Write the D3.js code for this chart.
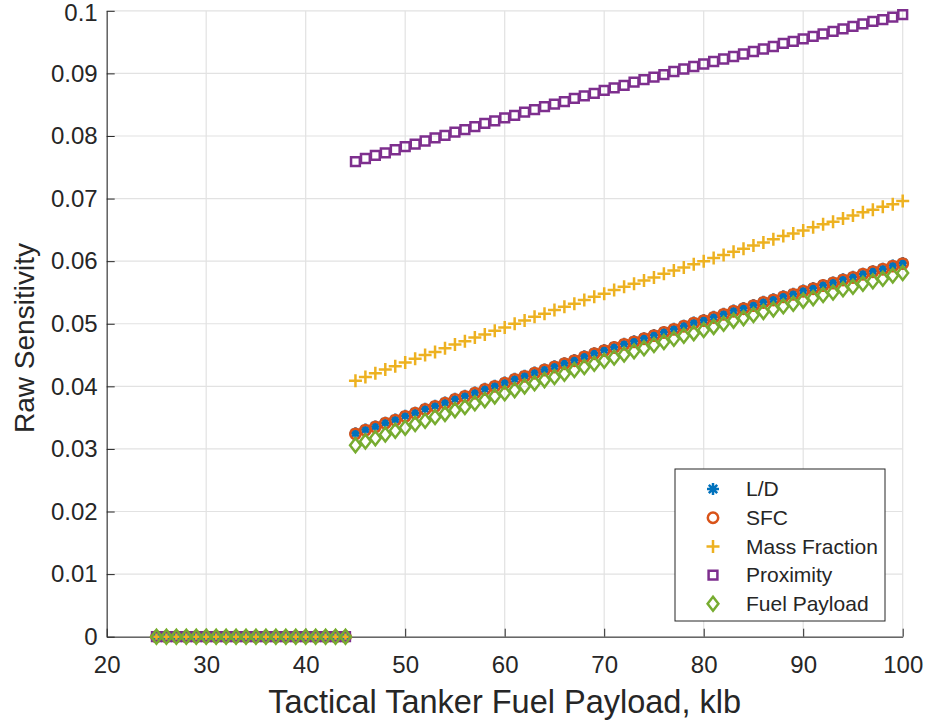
<!DOCTYPE html>
<html>
<head>
<meta charset="utf-8">
<script src="https://cdn.jsdelivr.net/npm/d3@7"></script>
<style>
  body { margin: 0; background: #fff; }
  text { font-family: "Liberation Sans", Arial, Helvetica, sans-serif; fill: #262626; }
</style>
</head>
<body>
<div id="chart"></div>
<script>
// payload (klb) on the x axis, one point per klb
const payload = d3.range(25, 101);

// below 45 klb every sensitivity is zero
const lowZeros = [0, 0, 0, 0, 0, 0, 0, 0, 0, 0, 0, 0, 0, 0, 0, 0, 0, 0, 0, 0];

// 45 .. 100 klb
const ldHigh = [0.0325, 0.0331, 0.0336, 0.0342, 0.0347, 0.0353, 0.0358, 0.0364, 0.0369, 0.0374,
  0.0380, 0.0385, 0.0390, 0.0396, 0.0401, 0.0406, 0.0412, 0.0417, 0.0422, 0.0427,
  0.0432, 0.0437, 0.0442, 0.0448, 0.0453, 0.0458, 0.0463, 0.0468, 0.0472, 0.0477,
  0.0482, 0.0487, 0.0492, 0.0497, 0.0502, 0.0506, 0.0511, 0.0516, 0.0521, 0.0525,
  0.0530, 0.0535, 0.0539, 0.0544, 0.0548, 0.0553, 0.0557, 0.0562, 0.0566, 0.0571,
  0.0575, 0.0580, 0.0584, 0.0588, 0.0593, 0.0597];
const sfcHigh = [0.0324, 0.0330, 0.0335, 0.0341, 0.0346, 0.0352, 0.0357, 0.0363, 0.0368, 0.0373,
  0.0379, 0.0384, 0.0389, 0.0395, 0.0400, 0.0405, 0.0411, 0.0416, 0.0421, 0.0426,
  0.0431, 0.0436, 0.0441, 0.0447, 0.0452, 0.0457, 0.0462, 0.0467, 0.0471, 0.0476,
  0.0481, 0.0486, 0.0491, 0.0496, 0.0501, 0.0505, 0.0510, 0.0515, 0.0520, 0.0524,
  0.0529, 0.0534, 0.0538, 0.0543, 0.0547, 0.0552, 0.0556, 0.0561, 0.0565, 0.0570,
  0.0574, 0.0579, 0.0583, 0.0587, 0.0592, 0.0596];
const massHigh = [0.0409, 0.0415, 0.0421, 0.0427, 0.0432, 0.0438, 0.0444, 0.0450, 0.0455, 0.0461,
  0.0467, 0.0472, 0.0478, 0.0483, 0.0489, 0.0494, 0.0500, 0.0505, 0.0511, 0.0516,
  0.0522, 0.0527, 0.0532, 0.0538, 0.0543, 0.0548, 0.0554, 0.0559, 0.0564, 0.0569,
  0.0574, 0.0580, 0.0585, 0.0590, 0.0595, 0.0600, 0.0605, 0.0610, 0.0615, 0.0620,
  0.0625, 0.0630, 0.0635, 0.0640, 0.0644, 0.0649, 0.0654, 0.0659, 0.0663, 0.0668,
  0.0673, 0.0678, 0.0682, 0.0687, 0.0691, 0.0696];
const proxHigh = [0.0759, 0.0764, 0.0769, 0.0773, 0.0778, 0.0783, 0.0787, 0.0792, 0.0797, 0.0801,
  0.0806, 0.0810, 0.0815, 0.0820, 0.0824, 0.0829, 0.0833, 0.0838, 0.0842, 0.0847,
  0.0851, 0.0855, 0.0860, 0.0864, 0.0868, 0.0873, 0.0877, 0.0881, 0.0886, 0.0890,
  0.0894, 0.0898, 0.0903, 0.0907, 0.0911, 0.0915, 0.0919, 0.0923, 0.0927, 0.0931,
  0.0935, 0.0939, 0.0943, 0.0948, 0.0951, 0.0955, 0.0959, 0.0963, 0.0967, 0.0971,
  0.0975, 0.0979, 0.0983, 0.0986, 0.0990, 0.0994];
const fuelHigh = [0.0306, 0.0312, 0.0317, 0.0323, 0.0329, 0.0334, 0.0340, 0.0345, 0.0351, 0.0356,
  0.0362, 0.0367, 0.0373, 0.0378, 0.0384, 0.0389, 0.0394, 0.0400, 0.0405, 0.0410,
  0.0415, 0.0420, 0.0426, 0.0431, 0.0436, 0.0441, 0.0446, 0.0451, 0.0456, 0.0461,
  0.0466, 0.0471, 0.0476, 0.0481, 0.0485, 0.0490, 0.0495, 0.0500, 0.0505, 0.0509,
  0.0514, 0.0519, 0.0523, 0.0528, 0.0532, 0.0537, 0.0541, 0.0546, 0.0550, 0.0555,
  0.0559, 0.0564, 0.0568, 0.0572, 0.0577, 0.0581];

const seriesNames = ["L/D", "SFC", "Mass Fraction", "Proximity", "Fuel Payload"];
const seriesColors = ["#0072BD", "#D95319", "#EDB120", "#7E2F8E", "#77AC30"];
const seriesMarkers = ["asterisk", "circle", "plus", "square", "diamond"];
const seriesValues = [ldHigh, sfcHigh, massHigh, proxHigh, fuelHigh].map(v => lowZeros.concat(v));

const xTicks = [20, 30, 40, 50, 60, 70, 80, 90, 100];
const yTicks = [0, 0.01, 0.02, 0.03, 0.04, 0.05, 0.06, 0.07, 0.08, 0.09, 0.1];

const width = 927, height = 726;
const margin = {left: 106.7, right: 24.3, top: 10.8, bottom: 89.3};
const innerW = width - margin.left - margin.right;
const innerH = height - margin.top - margin.bottom;

// matlab style marker outlines
function markerPath(type) {
  switch (type) {
    case "asterisk": return "M0,-6V6M-6,0H6M-4.2,-4.2L4.2,4.2M-4.2,4.2L4.2,-4.2";
    case "circle":   return "M5.2,0A5.2,5.2 0 1,1 -5.2,0A5.2,5.2 0 1,1 5.2,0Z";
    case "plus":     return "M-6.5,0H6.5M0,-6.5V6.5";
    case "square":   return "M-4.4,-4.4H4.4V4.4H-4.4Z";
    case "diamond":  return "M0,-7L5.4,0L0,7L-5.4,0Z";
  }
}

const svg = d3.select("#chart")
  .append("svg")
  .attr("width", width)
  .attr("height", height);

const g = svg.append("g")
  .attr("transform", `translate(${margin.left}, ${margin.top})`);

const x = d3.scaleLinear().domain([20, 100]).range([0, innerW]);
const y = d3.scaleLinear().domain([0, 0.1]).range([innerH, 0]);

// grid
g.append("g").selectAll("line").data(xTicks).join("line")
  .attr("x1", d => x(d)).attr("x2", d => x(d))
  .attr("y1", 0).attr("y2", innerH)
  .attr("stroke", "#e2e2e2").attr("stroke-width", 1.2);
g.append("g").selectAll("line").data(yTicks).join("line")
  .attr("x1", 0).attr("x2", innerW)
  .attr("y1", d => y(d)).attr("y2", d => y(d))
  .attr("stroke", "#e2e2e2").attr("stroke-width", 1.2);

// axes, ticks pointing inward
const xAxis = g.append("g")
  .attr("transform", `translate(0, ${innerH})`)
  .call(d3.axisBottom(x).tickValues(xTicks).tickSize(-8).tickPadding(19).tickSizeOuter(0));
const yAxis = g.append("g")
  .call(d3.axisLeft(y).tickValues(yTicks).tickSize(-8).tickPadding(9).tickSizeOuter(0)
    .tickFormat(d => d === 0 ? "0" : String(+d.toFixed(2))));

[xAxis, yAxis].forEach(a => {
  a.select(".domain").attr("stroke", "#262626").attr("stroke-width", 1);
  a.selectAll(".tick line").attr("stroke", "#262626").attr("stroke-width", 1);
  a.selectAll(".tick text")
    .attr("fill", "#262626")
    .style("font-size", "24px")
    .style("font-family", "'Liberation Sans', Arial, sans-serif");
});
// keep the top label inside the page
yAxis.selectAll(".tick text").filter(d => d === 0.1).attr("dy", "0.42em");

// axis labels
svg.append("text")
  .attr("x", margin.left + innerW / 2)
  .attr("y", 713)
  .attr("text-anchor", "middle")
  .style("font-size", "32.5px")
  .text("Tactical Tanker Fuel Payload, klb");

svg.append("text")
  .attr("transform", `translate(34, 338) rotate(-90)`)
  .attr("text-anchor", "middle")
  .style("font-size", "28px")
  .text("Raw Sensitivity");

// markers
const plotG = g.append("g");
seriesValues.forEach((vals, i) => {
  plotG.append("g").selectAll("path")
    .data(payload.map((p, k) => [p, vals[k]]))
    .join("path")
    .attr("d", markerPath(seriesMarkers[i]))
    .attr("transform", d => `translate(${x(d[0])}, ${y(d[1])})`)
    .attr("fill", "none")
    .attr("stroke", seriesColors[i])
    .attr("stroke-width", 2.5);
});

// legend
const legend = svg.append("g").attr("transform", "translate(675, 469)");
legend.append("rect")
  .attr("width", 210).attr("height", 152)
  .attr("fill", "#fff")
  .attr("stroke", "#262626").attr("stroke-width", 1);

const rows = legend.selectAll("g.row").data(seriesNames).join("g")
  .attr("class", "row")
  .attr("transform", (d, i) => `translate(0, ${20 + i * 28.7})`);
rows.append("path")
  .attr("transform", "translate(38, 0)")
  .attr("d", (d, i) => markerPath(seriesMarkers[i]))
  .attr("fill", "none")
  .attr("stroke", (d, i) => seriesColors[i])
  .attr("stroke-width", 2.5);
rows.append("text")
  .attr("x", 71)
  .attr("dy", "0.35em")
  .style("font-size", "21px")
  .text(d => d);
</script>
</body>
</html>
